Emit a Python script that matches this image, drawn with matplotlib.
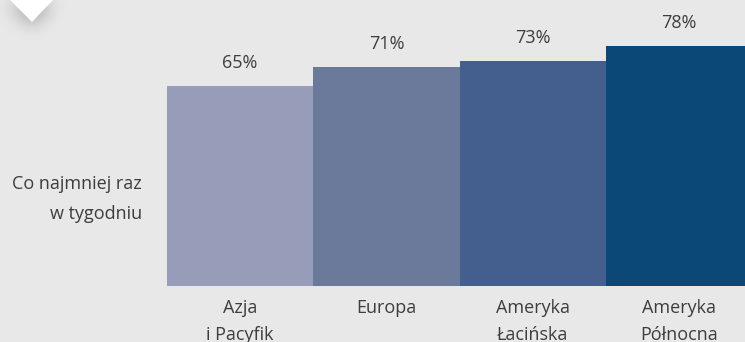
import numpy as np
import matplotlib
matplotlib.use("Agg")
import matplotlib.pyplot as plt
from matplotlib.patches import Polygon
from matplotlib.transforms import blended_transform_factory

# --- data ---
regions = ["Azja\ni Pacyfik", "Europa", "Ameryka\nŁacińska", "Ameryka\nPółnocna"]
shares = [65, 71, 73, 78]
row_label = "Co najmniej raz\nw tygodniu"
bar_colors = ["#979db9", "#6b799b", "#445f8d", "#0b4777"]

W, H = 745, 342
BG = "#e8e8e8"
TXT = "#3d3d3d"
FONT = "Open Sans"

fig = plt.figure(figsize=(W / 100, H / 100), dpi=100, facecolor=BG)

# bar axes: bottom at y=286px, left at x=167px, 146.3px per category
bar_w_px = 146.3
left_px, bottom_px = 167, 286
ax = fig.add_axes([left_px / W, 1 - bottom_px / H, 1 - left_px / W, bottom_px / H])
ax.set_facecolor(BG)
x = np.arange(len(shares))
ax.bar(x, shares, width=1.0, color=bar_colors, linewidth=0)
ax.set_xlim(-0.5, -0.5 + (W - left_px) / bar_w_px)
ax.set_ylim(0, bottom_px / 3.08)
ax.axis("off")

for xi, v in zip(x, shares):
    ax.annotate(f"{v}%", (xi, v), xytext=(0, 16.5), textcoords="offset points",
                ha="center", va="center", fontsize=13, color=TXT, family=FONT)

trans = blended_transform_factory(ax.transData, fig.transFigure)
for xi, lab in zip(x, regions):
    fig.text(xi, 1 - 299 / H, lab, transform=trans, ha="center", va="top",
             fontsize=13, color=TXT, family=FONT, linespacing=1.65,
             multialignment="center")

# overlay axes in pixel coordinates for the side label and the notch
ov = fig.add_axes([0, 0, 1, 1], facecolor="none")
ov.set_xlim(0, W)
ov.set_ylim(H, 0)
ov.axis("off")

ov.text(142, 199, row_label, ha="right", va="center", fontsize=13, color=TXT,
        family=FONT, linespacing=1.87, multialignment="right")

# soft shadow under the white notch
tri = np.array([[10, 0], [53, 0], [32, 22]], dtype=float)
gx0, gx1, gy0, gy1 = 0, 120, -20, 80
gx, gy = np.meshgrid(np.arange(gx0, gx1) + 0.5, np.arange(gy0, gy1) + 0.5)
path = matplotlib.path.Path(tri + np.array([0, 3]))
mask = path.contains_points(np.c_[gx.ravel(), gy.ravel()]).reshape(gx.shape).astype(float)
sig = 9.0
k = np.arange(-30, 31)
kern = np.exp(-k ** 2 / (2 * sig ** 2))
kern /= kern.sum()
blur = np.apply_along_axis(lambda r: np.convolve(r, kern, mode="same"), 1, mask)
blur = np.apply_along_axis(lambda c: np.convolve(c, kern, mode="same"), 0, blur)
rgba = np.zeros(blur.shape + (4,))
rgba[..., 3] = np.clip(blur * 0.35, 0, 1)
ov.imshow(rgba, extent=(gx0, gx1, gy1, gy0), interpolation="bilinear", zorder=1)
ov.set_xlim(0, W)
ov.set_ylim(H, 0)
ov.add_patch(Polygon(tri, closed=True, facecolor="white", edgecolor="none", zorder=2))

fig.savefig("out.png", dpi=100, facecolor=BG)
